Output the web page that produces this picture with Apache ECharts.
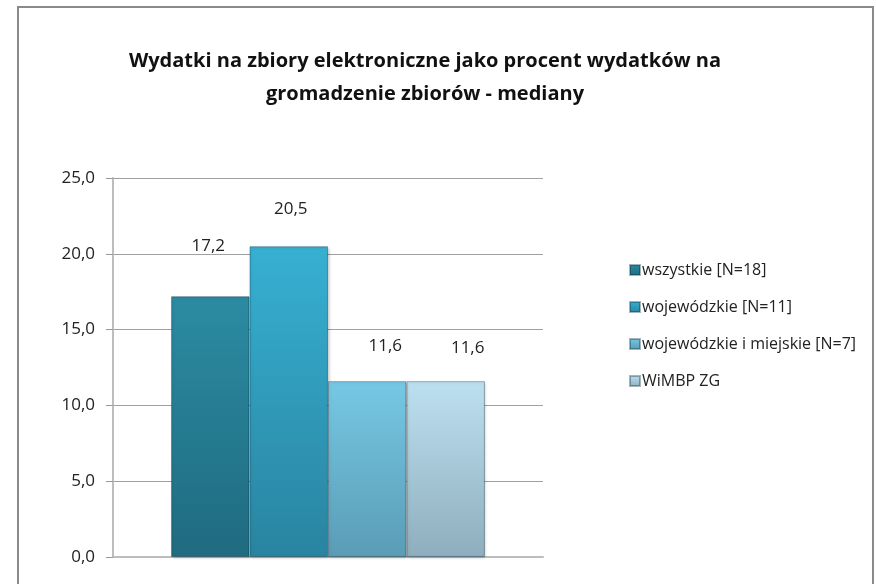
<!DOCTYPE html>
<html>
<head>
<meta charset="utf-8">
<script src="https://cdn.jsdelivr.net/npm/echarts@6/dist/echarts.min.js"></script>
<style>
  html, body { margin: 0; padding: 0; background: #fff; }
  #chart { width: 876px; height: 584px; }
</style>
</head>
<body>
<div id="chart"></div>
<script>
// dane wykresu
var kategorie = ['mediana'];
var serie = ['wszystkie [N=18]', 'wojewódzkie [N=11]', 'wojewódzkie i miejskie [N=7]', 'WiMBP ZG'];
var wartosci = [17.2, 20.5, 11.6, 11.6];
var osY = { min: 0, max: 25, interval: 5 };

// kolory słupków (góra, dół)
var kolory = [
  ['#2b8ba2', '#1f6b80'],
  ['#37b0d2', '#2984a0'],
  ['#76c8e4', '#5a9cb6'],
  ['#bde0f0', '#8eaebd']
];
// przesunięcia etykiet
var przesun = [[-2, -38], [2, -25], [18, -22], [22, -20]];

var chart = echarts.init(document.getElementById('chart'));

function przecinek(v) {
  return v.toFixed(1).replace('.', ',');
}

var series = serie.map(function (nazwa, i) {
  var grad = new echarts.graphic.LinearGradient(0, 0, 0, 1, [
    { offset: 0, color: kolory[i][0] },
    { offset: 1, color: kolory[i][1] }
  ]);
  return {
    name: nazwa,
    type: 'bar',
    barGap: '0%',
    barCategoryGap: '27%',
    data: [wartosci[i]],
    itemStyle: {
      color: grad,
      borderColor: 'rgba(0,40,60,0.35)',
      borderWidth: 1,
      shadowColor: 'rgba(0,0,0,0.25)',
      shadowBlur: 3,
      shadowOffsetX: 1,
      shadowOffsetY: 1
    },
    label: {
      show: true,
      position: 'top',
      distance: 4,
      offset: przesun[i],
      formatter: function (p) { return przecinek(p.value); },
      fontFamily: 'Open Sans',
      fontSize: 17,
      color: '#222'
    }
  };
});

chart.setOption({
  animation: false,
  title: {
    text: 'Wydatki na zbiory elektroniczne jako procent wydatków na\ngromadzenie zbiorów - mediany',
    left: 420,
    top: 40,
    textAlign: 'center',
    textStyle: {
      fontFamily: 'Open Sans',
      fontWeight: 'bold',
      fontSize: 20,
      lineHeight: 33,
      color: '#111'
    }
  },
  legend: {
    orient: 'vertical',
    left: 624,
    top: 257,
    itemGap: 21,
    itemWidth: 10,
    itemHeight: 10,
    icon: 'rect',
    textStyle: { fontFamily: 'Open Sans', fontSize: 16, color: '#222', padding: [0, 0, 0, -3] },
    data: serie
  },
  grid: { left: 113, right: 333, top: 178, bottom: 27 },
  xAxis: {
    type: 'category',
    data: kategorie,
    axisLabel: { show: false },
    axisTick: { show: false },
    axisLine: { lineStyle: { color: '#bdbdbd', width: 2 } }
  },
  yAxis: {
    type: 'value',
    min: osY.min,
    max: osY.max,
    interval: osY.interval,
    axisLine: { show: true, lineStyle: { color: '#bdbdbd', width: 2 } },
    axisTick: { show: true, length: 7, lineStyle: { color: '#999' } },
    splitLine: { lineStyle: { color: '#a0a0a0' } },
    axisLabel: {
      formatter: function (v) { return przecinek(v); },
      fontFamily: 'Open Sans',
      fontSize: 17,
      color: '#222',
      margin: 18
    }
  },
  graphic: [{
    type: 'rect',
    shape: { x: 18, y: 7, width: 855, height: 600 },
    style: { fill: 'none', stroke: '#8a8a8a', lineWidth: 2 },
    silent: true
  }],
  series: series
});
</script>
</body>
</html>
